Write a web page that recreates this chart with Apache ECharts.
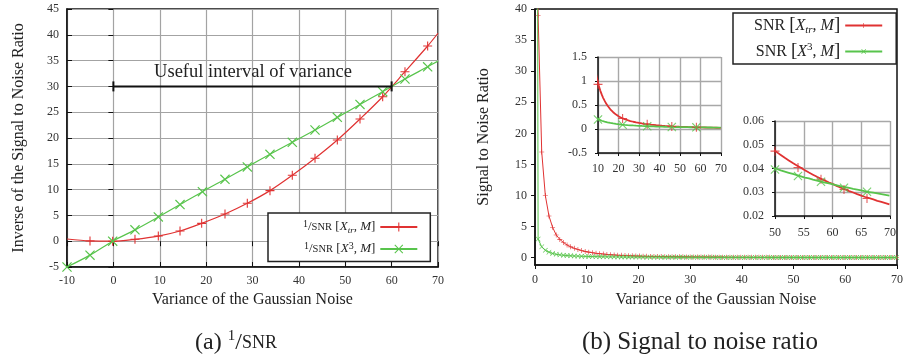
<!DOCTYPE html>
<html><head><meta charset="utf-8">
<script src="https://cdn.jsdelivr.net/npm/echarts@6/dist/echarts.min.js"></script>
<style>html,body{margin:0;padding:0;background:#fff}#c{width:906px;height:360px}</style>
</head><body><div id="c"></div>
<script>
// ---------- data ----------
// (a) 1/SNR panel
const leftRedX = [-10, -5.04, -0.15, 4.66, 9.69, 14.37, 19.04, 24.07, 28.88, 33.77, 38.58, 43.48, 48.29, 53.18, 58.07, 62.88, 67.77, 70];
const leftRedY = [0.43, 0.05, 0, 0.37, 1.0, 1.98, 3.46, 5.27, 7.34, 9.8, 12.77, 16.06, 19.6, 23.68, 28.0, 32.85, 37.83, 40.3];
const leftGreenX = [-10, -5.04, -0.15, 4.66, 9.69, 14.37, 19.2, 24.07, 28.88, 33.77, 38.58, 43.48, 48.29, 53.18, 58.07, 62.88, 67.77, 70];
const leftGreenY = [-5, -2.7, 0, 2.2, 4.7, 7.1, 9.6, 12.0, 14.4, 16.84, 19.17, 21.55, 24.0, 26.5, 28.97, 31.43, 33.8, 34.9];
const usefulX = [0, 60];
const usefulY = [30, 30];
const xTicksA = [-10, 0, 10, 20, 30, 40, 50, 60, 70];
const yTicksA = [-5, 0, 5, 10, 15, 20, 25, 30, 35, 40, 45];

// (b) SNR panel
const snrX = [-0.1,0.6,1.3,2.0,2.7,3.4,4.1,4.8,5.5,6.2,6.9,7.6,8.3,9.0,9.7,10.4,11.1,11.8,12.5,13.2,13.9,14.6,15.3,16.0,16.7,17.4,18.1,18.8,19.5,20.2,20.9,21.6,22.3,23.0,23.7,24.4,25.1,25.8,26.5,27.2,27.9,28.6,29.3,30.0,30.7,31.4,32.1,32.8,33.5,34.2,34.9,35.6,36.3,37.0,37.7,38.4,39.1,39.8,40.5,41.2,41.9,42.6,43.3,44.0,44.7,45.4,46.1,46.8,47.5,48.2,48.9,49.6,50.3,51.0,51.7,52.4,53.1,53.8,54.5,55.2,55.9,56.6,57.3,58.0,58.7,59.4,60.1,60.8,61.5,62.2,62.9,63.6,64.3,65.0,65.7,66.4,67.1,67.8,68.5,69.2,69.9];
const snrRed = [300,39,17,10,6.72,4.9,3.66,2.95,2.45,2.05,1.75,1.52,1.33,1.15,1.02,0.9,0.8,0.72,0.65,0.59,0.535,0.49,0.45,0.41,0.378,0.35,0.323,0.3,0.279,0.26,0.244,0.23,0.217,0.205,0.194,0.184,0.175,0.166,0.158,0.151,0.144,0.138,0.132,0.127,0.122,0.117,0.112,0.108,0.104,0.1,0.096,0.092,0.0885,0.0855,0.0822,0.079,0.0763,0.0738,0.0713,0.069,0.067,0.0649,0.0629,0.061,0.0592,0.0574,0.0557,0.054,0.0526,0.0511,0.0497,0.0482,0.0469,0.0457,0.0445,0.0434,0.0423,0.0413,0.0403,0.0393,0.0383,0.0374,0.0365,0.0357,0.0349,0.0341,0.0334,0.0326,0.0319,0.0312,0.0305,0.0299,0.0292,0.0286,0.028,0.0275,0.027,0.0264,0.0259,0.0254,0.0249];
const snrGreen = [300,3.0,1.75,1.2,0.9,0.68,0.55,0.46,0.4,0.35,0.31,0.28,0.255,0.235,0.215,0.2,0.185,0.172,0.162,0.153,0.145,0.138,0.132,0.126,0.121,0.116,0.111,0.107,0.103,0.099,0.0957,0.0926,0.0897,0.087,0.0844,0.082,0.0797,0.0775,0.0755,0.0735,0.0717,0.07,0.0683,0.0667,0.0651,0.0637,0.0623,0.061,0.0597,0.0585,0.0573,0.0562,0.0551,0.0541,0.0531,0.0521,0.0512,0.0503,0.0494,0.0485,0.0477,0.047,0.0462,0.0455,0.0447,0.0441,0.0434,0.0427,0.0421,0.0415,0.0409,0.0403,0.0398,0.0392,0.0387,0.0382,0.0377,0.0372,0.0367,0.0362,0.0358,0.0353,0.0349,0.0345,0.0341,0.0337,0.0333,0.0329,0.0325,0.0322,0.0318,0.0314,0.0311,0.0308,0.0304,0.0301,0.0298,0.0295,0.0292,0.0289,0.0286];
const yTicksB = [0, 5, 10, 15, 20, 25, 30, 35, 40];

// insets
const inset1MarkX = [10, 22, 34, 46, 58];
const inset1RedMark = [0.93, 0.22, 0.1, 0.053, 0.035];
const inset1GreenMark = [0.2, 0.09, 0.059, 0.043, 0.034];
const inset2MarkX = [50, 54, 58, 62, 66];
const inset2RedMark = [0.0473, 0.0404, 0.0355, 0.0312, 0.0274];
const inset2GreenMark = [0.0396, 0.0368, 0.0344, 0.0319, 0.0302];

// ---------- styling ----------
const F = 'Liberation Serif';
const RED = '#e03232';
const GREEN = '#58c44c';
const TXT = '#222';
const PLUS = 'path://M4.4,0h1.2v4.4h4.4v1.2h-4.4v4.4h-1.2v-4.4h-4.4v-1.2h4.4z';
const CROSS = 'path://M0,0.85L0.85,0L5,4.15L9.15,0L10,0.85L5.85,5L10,9.15L9.15,10L5,5.85L0.85,10L0,9.15L4.15,5Z';

const pairs = (xs, ys) => xs.map((x, i) => [x, ys[i]]);
const leftRedData = leftRedX.map((x, i) => (i === 0 || i === leftRedX.length - 1) ? {value: [x, leftRedY[i]], symbol: 'none'} : [x, leftRedY[i]]);
const leftGreenData = leftGreenX.map((x, i) => (i === leftGreenX.length - 1) ? {value: [x, leftGreenY[i]], symbol: 'none'} : [x, leftGreenY[i]]);

const lbl = (o) => Object.assign({fontFamily: F, fontSize: 12, color: '#333'}, o || {});
const nameStyle = {fontFamily: F, fontSize: 16, color: TXT};

const leftRich = {
  n: {fontFamily: F, fontSize: 13, color: TXT, lineHeight: 16},
  sup: {fontFamily: F, fontSize: 10, color: TXT, verticalAlign: 'top', lineHeight: 9},
  sc: {fontFamily: F, fontSize: 10.5, color: TXT, lineHeight: 16},
  it: {fontFamily: F, fontSize: 13, fontStyle: 'italic', color: TXT, lineHeight: 16},
  sub: {fontFamily: F, fontSize: 9, fontStyle: 'italic', color: TXT, verticalAlign: 'bottom', lineHeight: 9}
};
const rightRich = {
  n: {fontFamily: F, fontSize: 16, color: TXT, lineHeight: 20},
  br: {fontFamily: F, fontSize: 19, color: TXT, lineHeight: 20},
  it: {fontFamily: F, fontSize: 16, fontStyle: 'italic', color: TXT, lineHeight: 20},
  sup: {fontFamily: F, fontSize: 11, color: TXT, verticalAlign: 'top', lineHeight: 11},
  sub: {fontFamily: F, fontSize: 11, fontStyle: 'italic', color: TXT, verticalAlign: 'bottom', lineHeight: 11}
};
const legendText = {
  a1: '{sup|1}{n|/}{sc|SNR} {n|[}{it|X}{sub|tr}{n|, }{it|M}{n|]}',
  a2: '{sup|1}{n|/}{sc|SNR} {n|[}{it|X}{sup|3}{n|, }{it|M}{n|]}',
  b1: '{n|SNR }{br|[}{it|X}{sub|tr}{n|, }{it|M}{br|]}',
  b2: '{n|SNR }{br|[}{it|X}{sup|3}{n|, }{it|M}{br|]}'
};

const chart = echarts.init(document.getElementById('c'), null, {renderer: 'canvas'});
chart.setOption({
  animation: false,
  backgroundColor: '#fff',
  grid: [
    {left: 67, top: 9, width: 371, height: 258, show: true, borderColor: '#111', borderWidth: 1.5, backgroundColor: 'transparent'},
    {left: 535, top: 9, width: 368, height: 256, show: true, borderColor: '#111', borderWidth: 1.5, backgroundColor: 'transparent'},
    {left: 598, top: 57, width: 123, height: 96, show: true, borderColor: 'transparent', borderWidth: 0, backgroundColor: '#fff'},
    {left: 775, top: 121, width: 115, height: 95, show: true, borderColor: 'transparent', borderWidth: 0, backgroundColor: '#fff'}
  ],
  xAxis: [
    {gridIndex: 0, type: 'value', min: xTicksA[0], max: xTicksA[xTicksA.length - 1], interval: 10,
     name: 'Variance of the Gaussian Noise', nameLocation: 'middle', nameGap: 25, nameTextStyle: nameStyle,
     axisLine: {show: true, onZero: false, lineStyle: {color: '#111', width: 1.5}},
     axisTick: {inside: true, length: 5, lineStyle: {color: '#111'}},
     axisLabel: lbl({margin: 8}),
     splitLine: {show: true, lineStyle: {color: '#a3a3a3', width: 1.2}}},
    {gridIndex: 0, type: 'value', position: 'top', min: xTicksA[0], max: xTicksA[xTicksA.length - 1], interval: 10,
     axisLine: {show: false}, axisTick: {inside: true, length: 5, lineStyle: {color: '#111'}},
     axisLabel: {show: false}, splitLine: {show: false}},
    {gridIndex: 1, type: 'value', min: 0, max: 70, interval: 10,
     name: 'Variance of the Gaussian Noise', nameLocation: 'middle', nameGap: 27, nameTextStyle: nameStyle,
     axisLine: {show: true, onZero: false, lineStyle: {color: '#111', width: 1.5}},
     axisTick: {inside: false, length: 4, lineStyle: {color: '#111'}},
     axisLabel: lbl({margin: 9}), splitLine: {show: false}},
    {gridIndex: 2, type: 'value', min: 10, max: 70, interval: 10,
     axisLine: {show: true, onZero: false, lineStyle: {color: '#111', width: 1.5}},
     axisTick: {inside: false, length: 3, lineStyle: {color: '#111'}},
     axisLabel: lbl({margin: 10}), splitLine: {show: true, lineStyle: {color: '#a8a8a8', width: 1.4}}},
    {gridIndex: 3, type: 'value', min: 50, max: 70, interval: 5,
     axisLine: {show: true, onZero: false, lineStyle: {color: '#111', width: 1.5}},
     axisTick: {inside: false, length: 3, lineStyle: {color: '#111'}},
     axisLabel: lbl({margin: 11}), splitLine: {show: true, lineStyle: {color: '#a8a8a8', width: 1.4}}}
  ],
  yAxis: [
    {gridIndex: 0, type: 'value', min: yTicksA[0], max: yTicksA[yTicksA.length - 1], interval: 5,
     name: 'Inverse of the Signal to Noise Ratio', nameLocation: 'middle', nameGap: 40, nameTextStyle: nameStyle,
     axisLine: {show: true, onZero: false, lineStyle: {color: '#111', width: 1.5}},
     axisTick: {inside: true, length: 5, lineStyle: {color: '#111'}},
     axisLabel: lbl({margin: 8}),
     splitLine: {show: true, lineStyle: {color: '#a3a3a3', width: 1.2}}},
    {gridIndex: 0, type: 'value', position: 'right', min: yTicksA[0], max: yTicksA[yTicksA.length - 1], interval: 5,
     axisLine: {show: false}, axisTick: {inside: true, length: 5, lineStyle: {color: '#111'}},
     axisLabel: {show: false}, splitLine: {show: false}},
    {gridIndex: 1, type: 'value', min: -1.17, max: 40,
     name: 'Signal to Noise Ratio', nameLocation: 'middle', nameGap: 43, nameTextStyle: nameStyle,
     axisLine: {show: true, onZero: false, lineStyle: {color: '#111', width: 1.5}},
     axisTick: {inside: false, length: 4, lineStyle: {color: '#111'}, customValues: yTicksB},
     axisLabel: lbl({margin: 8, customValues: yTicksB}), splitLine: {show: false}},
    {gridIndex: 2, type: 'value', min: -0.5, max: 1.5, interval: 0.5,
     axisLine: {show: true, onZero: false, lineStyle: {color: '#111', width: 1.5}},
     axisTick: {inside: false, length: 3, lineStyle: {color: '#111'}},
     axisLabel: lbl({margin: 11}), splitLine: {show: true, lineStyle: {color: '#a8a8a8', width: 1.4}}},
    {gridIndex: 3, type: 'value', min: 0.02, max: 0.06, interval: 0.01,
     axisLine: {show: true, onZero: false, lineStyle: {color: '#111', width: 1.5}},
     axisTick: {inside: false, length: 3, lineStyle: {color: '#111'}},
     axisLabel: lbl({margin: 11}), splitLine: {show: true, lineStyle: {color: '#a8a8a8', width: 1.4}}}
  ],
  legend: [
    {data: ['a1', 'a2'], orient: 'vertical', align: 'right', left: 268, top: 213,
     padding: [6, 12, 6, 35], itemGap: 6, itemWidth: 37, itemHeight: 11,
     backgroundColor: '#fff', borderColor: '#222', borderWidth: 1.5, borderRadius: 0,
     formatter: n => legendText[n], textStyle: {rich: leftRich}},
    {data: ['b1', 'b2'], orient: 'vertical', align: 'right', left: 733, top: 13,
     padding: [3, 13, 3, 21], itemGap: 6, itemWidth: 37, itemHeight: 6,
     backgroundColor: '#fff', borderColor: '#222', borderWidth: 1.5, borderRadius: 0,
     formatter: n => legendText[n], textStyle: {rich: rightRich}}
  ],
  graphic: [
    {type: 'text', x: 236, y: 343, z: 10,
     style: {text: '{n|(a) }{sup|1}{n|/}{sc|SNR}', align: 'center', verticalAlign: 'middle',
       rich: {n: {fontFamily: F, fontSize: 24, fill: TXT, lineHeight: 28},
              sup: {fontFamily: F, fontSize: 15, fill: TXT, verticalAlign: 'top', lineHeight: 15},
              sc: {fontFamily: F, fontSize: 18, fill: TXT, lineHeight: 28}}}},
    {type: 'text', x: 700, y: 342, z: 10,
     style: {text: '(b) Signal to noise ratio', align: 'center', verticalAlign: 'middle',
       fontFamily: F, fontSize: 25, fill: TXT}}
  ],
  series: [
    {name: 'a1', type: 'line', xAxisIndex: 0, yAxisIndex: 0, smooth: 0.3, data: leftRedData,
     symbol: PLUS, symbolSize: 9, showSymbol: true, color: RED,
     itemStyle: {color: RED}, lineStyle: {color: RED, width: 1.2}, z: 3},
    {name: 'a2', type: 'line', xAxisIndex: 0, yAxisIndex: 0, smooth: 0.3, data: leftGreenData,
     symbol: CROSS, symbolSize: 10, showSymbol: true, color: GREEN,
     itemStyle: {color: GREEN}, lineStyle: {color: GREEN, width: 1.2}, z: 4},
    {name: 'useful', type: 'line', xAxisIndex: 0, yAxisIndex: 0, data: pairs(usefulX, usefulY),
     symbol: 'rect', symbolSize: [2, 10], color: '#111', itemStyle: {color: '#111'},
     lineStyle: {color: '#111', width: 2}, z: 5,
     markPoint: {symbol: 'circle', symbolSize: 1, itemStyle: {color: 'rgba(0,0,0,0)'},
       data: [{coord: [30.1, 32.8], label: {show: true, position: 'inside', formatter: 'Useful interval of variance',
         fontFamily: F, fontSize: 18.5, color: TXT}}]}},
    {name: 'b1', type: 'line', xAxisIndex: 2, yAxisIndex: 2, data: pairs(snrX, snrRed),
     symbol: PLUS, symbolSize: 5, showSymbol: true, showAllSymbol: true, color: RED,
     itemStyle: {color: RED}, lineStyle: {color: RED, width: 1}, z: 3},
    {name: 'b2', type: 'line', xAxisIndex: 2, yAxisIndex: 2, data: pairs(snrX, snrGreen),
     symbol: CROSS, symbolSize: 5, showSymbol: true, showAllSymbol: true, color: GREEN,
     itemStyle: {color: GREEN}, lineStyle: {color: GREEN, width: 1}, z: 4},
    {name: 'i1r', type: 'line', xAxisIndex: 3, yAxisIndex: 3, data: pairs(snrX, snrRed), showSymbol: false,
     lineStyle: {color: RED, width: 1.8}, color: RED, z: 6},
    {name: 'i1g', type: 'line', xAxisIndex: 3, yAxisIndex: 3, data: pairs(snrX, snrGreen), showSymbol: false,
     lineStyle: {color: GREEN, width: 1.8}, color: GREEN, z: 6},
    {name: 'i1rm', type: 'scatter', xAxisIndex: 3, yAxisIndex: 3, data: pairs(inset1MarkX, inset1RedMark),
     symbol: PLUS, symbolSize: 9, itemStyle: {color: RED}, z: 7},
    {name: 'i1gm', type: 'scatter', xAxisIndex: 3, yAxisIndex: 3, data: pairs(inset1MarkX, inset1GreenMark),
     symbol: CROSS, symbolSize: 9, itemStyle: {color: GREEN}, z: 7},
    {name: 'i2r', type: 'line', xAxisIndex: 4, yAxisIndex: 4, data: pairs(snrX, snrRed), showSymbol: false,
     lineStyle: {color: RED, width: 1.8}, color: RED, z: 6},
    {name: 'i2g', type: 'line', xAxisIndex: 4, yAxisIndex: 4, data: pairs(snrX, snrGreen), showSymbol: false,
     lineStyle: {color: GREEN, width: 1.8}, color: GREEN, z: 6},
    {name: 'i2rm', type: 'scatter', xAxisIndex: 4, yAxisIndex: 4, data: pairs(inset2MarkX, inset2RedMark),
     symbol: PLUS, symbolSize: 9, itemStyle: {color: RED}, z: 7},
    {name: 'i2gm', type: 'scatter', xAxisIndex: 4, yAxisIndex: 4, data: pairs(inset2MarkX, inset2GreenMark),
     symbol: CROSS, symbolSize: 9, itemStyle: {color: GREEN}, z: 7}
  ]
});
</script></body></html>
